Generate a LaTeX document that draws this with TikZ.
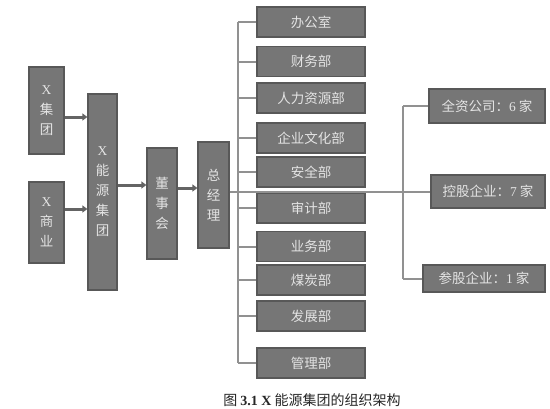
\documentclass[tikz,border=0pt]{standalone}
\usepackage{fontspec}
\setmainfont{Liberation Serif}
\newfontfamily\cjk{Noto Sans CJK SC}
\usepackage{tikz}
\usetikzlibrary{arrows.meta,calc,positioning}
\definecolor{boxfill}{RGB}{118,118,118}
\definecolor{boxedge}{RGB}{88,88,88}
\definecolor{boxtext}{RGB}{228,228,228}
\definecolor{wirec}{RGB}{145,145,145}
\definecolor{feedc}{RGB}{100,100,100}

\begin{document}
\begin{tikzpicture}[x=1pt,y=-1pt,
  unit/.style={draw=boxedge,fill=boxfill,line width=1.2pt,text=boxtext,inner sep=0pt,align=center,font=\cjk\fontsize{13.5}{20}\selectfont},
  dept/.style={unit,minimum width=108pt,minimum height=30pt},
  wire/.style={draw=wirec,line width=2pt},
  feed/.style={draw=feedc,line width=3pt,-{Triangle[length=5pt,width=7pt]}}]
  \useasboundingbox (0,0) rectangle (550,408);
  % left column
  \node[unit,minimum width=35pt,minimum height=87pt] (jt) at (46.5,110.5) {\textrm{X}\\集\\团};
  \node[unit,minimum width=35pt,minimum height=81pt] (sy) at (46.5,222.5) {\textrm{X}\\商\\业};
  \node[unit,minimum width=29pt,minimum height=196pt] (ny) at (102.5,192) {\textrm{X}\\能\\源\\集\\团};
  \node[unit,minimum width=30pt,minimum height=111pt] (dsh) at (162,203.5) {董\\事\\会};
  \node[unit,minimum width=31pt,minimum height=106pt] (zjl) at (213.5,195) {总\\经\\理};
  \foreach \s/\t/\y in {jt/ny/117,sy/ny/209,ny/dsh/185,dsh/zjl/188}
    \draw[feed] (\s.east |- 0,\y) -- (\t.west |- 0,\y);
  % departments
  \foreach \i/\y/\l in {1/22/办公室,2/61.5/财务部,3/98/人力资源部,4/138/企业文化部,5/172/安全部,
                        6/208/审计部,7/246.5/业务部,8/280/煤炭部,9/316/发展部,10/363/管理部}
    \node[dept] (d\i) at (311,\y) {\l};
  \coordinate (bus) at (238,0);
  \draw[wire] (d1.west -| bus) -- (d10.west -| bus);
  \foreach \i in {1,...,10} \draw[wire] (d\i.west -| bus) -- (d\i.west);
  % subsidiaries
  \node[unit,minimum width=116pt,minimum height=34pt] (qz) at (487,106) {全资公司：\textrm{6} 家};
  \node[unit,minimum width=114pt,minimum height=33pt] (kg) at (488,191.5) {控股企业：\textrm{7} 家};
  \node[unit,minimum width=122pt,minimum height=27pt] (cg) at (484,278.5) {参股企业：\textrm{1} 家};
  \coordinate (rbus) at (403,0);
  \draw[wire] (qz.west -| rbus) -- (cg.west -| rbus);
  \draw[wire] (qz.west -| rbus) -- (qz.west);
  \draw[wire] (cg.west -| rbus) -- (cg.west);
  \draw[wire] (zjl.east |- kg.west) -- (kg.west);
  % caption
  \node[text=black!85,font=\fontsize{14}{16}\selectfont] (cap) at (312,400) {\cjk 图 {\rmfamily\bfseries 3.1 X} 能源集团的组织架构};
\end{tikzpicture}
\end{document}
